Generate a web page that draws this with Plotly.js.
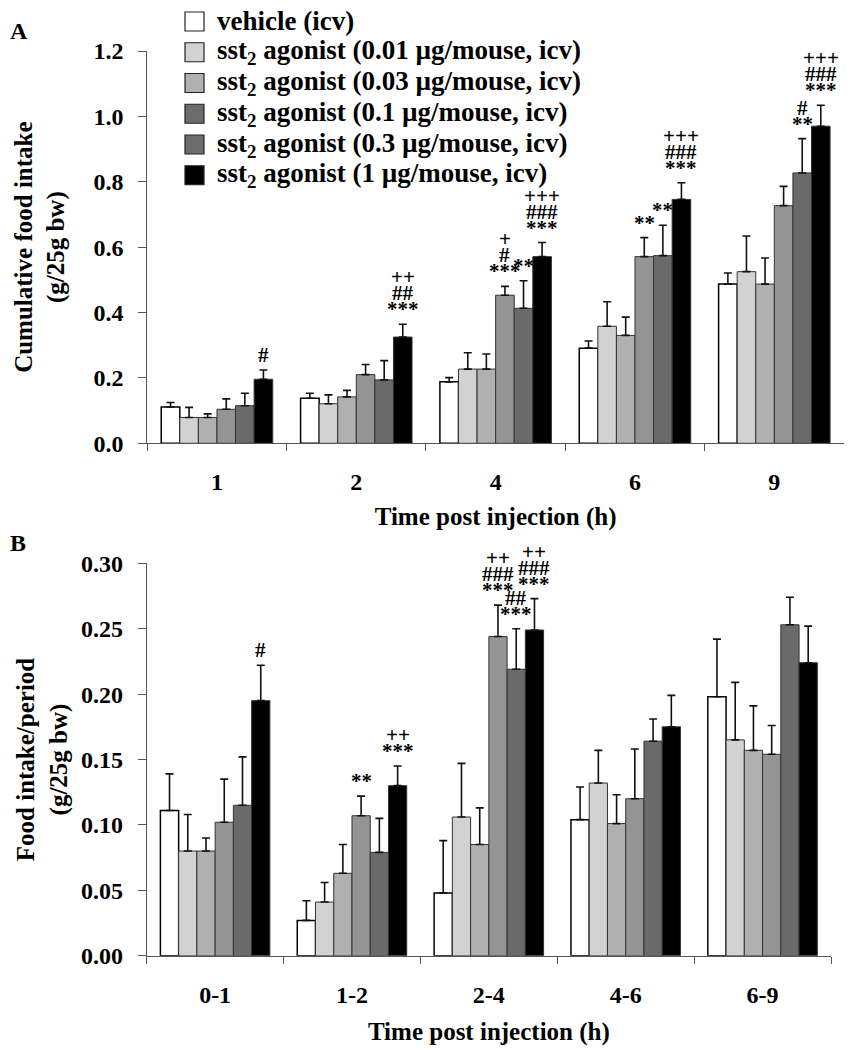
<!DOCTYPE html>
<html>
<head>
<meta charset="utf-8">
<script src="https://cdn.plot.ly/plotly-3.0.1.min.js"></script>
<style>html,body{margin:0;padding:0;background:#fff;}</style>
</head>
<body>
<div id="chart" style="width:852px;height:1050px;"></div>
<script>
// ---------- data ----------
const timesA = ['1', '2', '4', '6', '9'];
const timesB = ['0-1', '1-2', '2-4', '4-6', '6-9'];
const seriesNames = [
  'vehicle (icv)',
  'sst<sub>2</sub> agonist (0.01 µg/mouse, icv)',
  'sst<sub>2</sub> agonist (0.03 µg/mouse, icv)',
  'sst<sub>2</sub> agonist (0.1 µg/mouse, icv)',
  'sst<sub>2</sub> agonist (0.3 µg/mouse, icv)',
  'sst<sub>2</sub> agonist (1 µg/mouse, icv)'
];
// Panel A: cumulative food intake (g/25g bw), mean and SEM
const cumVehicle = [0.111, 0.138, 0.188, 0.291, 0.487];
const cumVehicleSem = [0.014, 0.015, 0.013, 0.022, 0.034];
const cumDose001 = [0.079, 0.121, 0.227, 0.358, 0.525];
const cumDose001Sem = [0.031, 0.027, 0.050, 0.075, 0.109];
const cumDose003 = [0.079, 0.142, 0.227, 0.330, 0.487];
const cumDose003Sem = [0.011, 0.020, 0.046, 0.056, 0.080];
const cumDose01 = [0.104, 0.210, 0.453, 0.571, 0.727];
const cumDose01Sem = [0.032, 0.031, 0.027, 0.058, 0.059];
const cumDose03 = [0.115, 0.194, 0.413, 0.574, 0.827];
const cumDose03Sem = [0.038, 0.059, 0.084, 0.093, 0.105];
const cumDose1 = [0.196, 0.325, 0.571, 0.746, 0.970];
const cumDose1Sem = [0.028, 0.039, 0.043, 0.051, 0.064];
// Panel B: food intake per period (g/25g bw), mean and SEM
const perVehicle = [0.111, 0.027, 0.048, 0.104, 0.198];
const perVehicleSem = [0.028, 0.015, 0.040, 0.025, 0.044];
const perDose001 = [0.080, 0.041, 0.106, 0.132, 0.165];
const perDose001Sem = [0.028, 0.015, 0.041, 0.025, 0.044];
const perDose003 = [0.080, 0.063, 0.085, 0.101, 0.157];
const perDose003Sem = [0.010, 0.022, 0.028, 0.022, 0.034];
const perDose01 = [0.102, 0.107, 0.244, 0.120, 0.154];
const perDose01Sem = [0.033, 0.015, 0.024, 0.038, 0.022];
const perDose03 = [0.115, 0.079, 0.219, 0.164, 0.253];
const perDose03Sem = [0.037, 0.026, 0.031, 0.017, 0.021];
const perDose1 = [0.195, 0.130, 0.249, 0.175, 0.224];
const perDose1Sem = [0.027, 0.015, 0.024, 0.024, 0.028];
// significance marks: group index, bar index, lines (top to bottom)
const sigA = [
  {g: 0, b: 5, t: ['#']},
  {g: 1, b: 5, t: ['++', '##', '***']},
  {g: 2, b: 3, t: ['+', '#', '***']},
  {g: 2, b: 4, t: ['**']},
  {g: 2, b: 5, t: ['+++', '###', '***']},
  {g: 3, b: 3, t: ['**']},
  {g: 3, b: 4, t: ['**']},
  {g: 3, b: 5, t: ['+++', '###', '***']},
  {g: 4, b: 4, t: ['#', '**']},
  {g: 4, b: 5, t: ['+++', '###', '***']}
];
const sigB = [
  {g: 0, b: 5, t: ['#']},
  {g: 1, b: 3, t: ['**']},
  {g: 1, b: 5, t: ['++', '***']},
  {g: 2, b: 3, t: ['++', '###', '***']},
  {g: 2, b: 4, t: ['##', '***']},
  {g: 2, b: 5, t: ['++', '###', '***']}
];

// ---------- styling ----------
const colors = ['#ffffff', '#d2d2d2', '#b0b0b0', '#949494', '#6a6a6a', '#000000'];
const legendColors = ['#ffffff', '#d2d2d2', '#b0b0b0', '#6c6c6c', '#6c6c6c', '#000000'];
const FONT = 'Liberation Serif, Times New Roman, serif';
const cumMeans = [cumVehicle, cumDose001, cumDose003, cumDose01, cumDose03, cumDose1];
const cumSems = [cumVehicleSem, cumDose001Sem, cumDose003Sem, cumDose01Sem, cumDose03Sem, cumDose1Sem];
const perMeans = [perVehicle, perDose001, perDose003, perDose01, perDose03, perDose1];
const perSems = [perVehicleSem, perDose001Sem, perDose003Sem, perDose01Sem, perDose03Sem, perDose1Sem];

const traces = [];
function addPanel(cats, means, sems, xa, ya) {
  for (let i = 0; i < means.length; i++) {
    traces.push({
      type: 'bar', x: cats, y: means[i], name: seriesNames[i],
      xaxis: xa, yaxis: ya, showlegend: false,
      marker: {color: colors[i], line: {color: i === 0 ? '#000' : '#333', width: i === 0 ? 1.5 : 1}},
      error_y: {type: 'data', symmetric: false, array: sems[i], arrayminus: sems[i].map(() => 0),
                color: '#111', thickness: 1.6, width: 4},
      hoverinfo: 'x+y'
    });
  }
}
addPanel(timesA, cumMeans, cumSems, 'x', 'y');
addPanel(timesB, perMeans, perSems, 'x2', 'y2');

const annotations = [];
const shapes = [];
const BW = 0.8 / 6;
function addSig(list, means, sems, xref, yref) {
  list.forEach(s => {
    const top = means[s.b][s.g] + sems[s.b][s.g];
    const n = s.t.length;
    s.t.forEach((txt, k) => {
      const fromBottom = n - 1 - k;
      annotations.push({
        x: s.g + (s.b - 2.5) * BW, y: top, xref: xref, yref: yref,
        text: txt, showarrow: false, yanchor: 'bottom', xanchor: 'center',
        yshift: 1 + fromBottom * 16,
        font: {family: FONT, size: 21, color: '#000', weight: 'bold'}
      });
    });
  });
}
addSig(sigA, cumMeans, cumSems, 'x', 'y');
addSig(sigB, perMeans, perSems, 'x2', 'y2');

// legend drawn as boxes + labels (paper coordinates)
const LEG_X0 = 185, LEG_SIZE = 19, LEG_TOP = 21.5, LEG_STEP = 30.75;
seriesNames.forEach((nm, i) => {
  const cy = LEG_TOP + i * LEG_STEP;
  shapes.push({type: 'rect', xref: 'paper', yref: 'paper',
    x0: LEG_X0 / 852, x1: (LEG_X0 + LEG_SIZE) / 852,
    y0: 1 - (cy + LEG_SIZE / 2) / 1050, y1: 1 - (cy - LEG_SIZE / 2) / 1050,
    fillcolor: legendColors[i], line: {color: '#222', width: 1.2}});
  annotations.push({x: 215 / 852, y: 1 - cy / 1050, xref: 'paper', yref: 'paper', text: nm,
    showarrow: false, xanchor: 'left', yanchor: 'middle',
    font: {family: FONT, size: 27, color: '#000', weight: 'bold'}});
});

annotations.push({x: 8 / 852, y: 1 - 31 / 1050, xref: 'paper', yref: 'paper', text: 'A', showarrow: false,
  xanchor: 'left', yanchor: 'middle', font: {family: FONT, size: 24, weight: 'bold', color: '#000'}});
annotations.push({x: 8 / 852, y: 1 - 543 / 1050, xref: 'paper', yref: 'paper', text: 'B', showarrow: false,
  xanchor: 'left', yanchor: 'middle', font: {family: FONT, size: 24, weight: 'bold', color: '#000'}});

const tickFont = {family: FONT, size: 24, color: '#000', weight: 'bold'};
const titleFont = {family: FONT, size: 25, color: '#000', weight: 'bold'};
function xAxis(domain, anchor, standoff) {
  return {domain: domain, anchor: anchor, type: 'category', showline: true, linecolor: '#555', linewidth: 1,
    ticks: 'outside', tickson: 'boundaries', ticklen: 7, tickcolor: '#555', tickfont: tickFont,
    ticklabelstandoff: 17, showgrid: false, zeroline: false, automargin: false,
    title: {text: 'Time post injection (h)', font: titleFont, standoff: standoff}};
}
function yAxis(domain, anchor, range, dtick, fmt, title, standoff) {
  return {domain: domain, anchor: anchor, range: range, dtick: dtick, tickformat: fmt, showline: true,
    linecolor: '#555', linewidth: 1, ticks: 'outside', ticklen: 8, tickcolor: '#555', tickfont: tickFont,
    ticklabelstandoff: 10, showgrid: false, zeroline: false, automargin: false,
    title: {text: title, font: titleFont, standoff: standoff}};
}

const layout = {
  width: 852, height: 1050,
  margin: {l: 0, r: 0, t: 0, b: 0},
  paper_bgcolor: '#fff', plot_bgcolor: '#fff',
  barmode: 'group', bargap: 0.2, bargroupgap: 0,
  showlegend: false,
  xaxis: xAxis([147.3 / 852, 844 / 852], 'y', 13),
  yaxis: yAxis([1 - 443.3 / 1050, 1 - 51 / 1050], 'x', [0, 1.2], 0.2, '.1f',
    'Cumulative food intake<br>(g/25g bw)', 21),
  xaxis2: xAxis([146.7 / 852, 831 / 852], 'y2', 15),
  yaxis2: yAxis([1 - 955.7 / 1050, 1 - 563.3 / 1050], 'x2', [0, 0.3], 0.05, '.2f',
    'Food intake/period<br>(g/25g bw)', 6),
  annotations: annotations,
  shapes: shapes
};

Plotly.newPlot('chart', traces, layout, {displayModeBar: false, staticPlot: true});
</script>
</body>
</html>
